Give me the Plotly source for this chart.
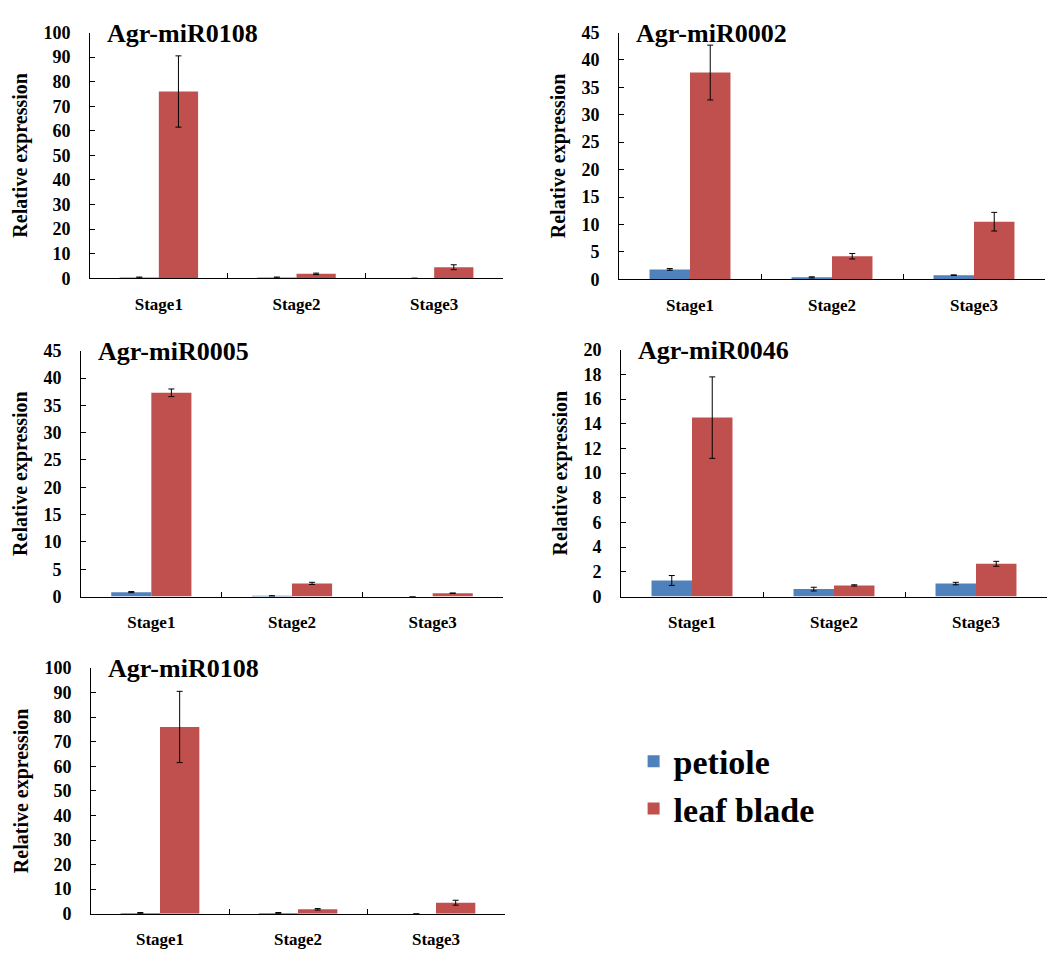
import plotly.graph_objects as go

stages = ["Stage1", "Stage2", "Stage3"]
series_names = ["petiole", "leaf blade"]
colors = ["#4F81BD", "#C0504D"]

titles = ["Agr-miR0108", "Agr-miR0002", "Agr-miR0005", "Agr-miR0046", "Agr-miR0108"]

# panel 1: Agr-miR0108
p1_petiole = [0.3, 0.3, 0.0]
p1_petiole_err = [0.2, 0.2, None]
p1_leaf = [76.0, 1.8, 4.5]
p1_leaf_err = [14.5, 0.3, 1.0]

# panel 2: Agr-miR0002
p2_petiole = [1.8, 0.35, 0.75]
p2_petiole_err = [0.15, 0.1, 0.05]
p2_leaf = [37.7, 4.2, 10.5]
p2_leaf_err = [5.0, 0.5, 1.7]

# panel 3: Agr-miR0005
p3_petiole = [0.8, 0.1, 0.0]
p3_petiole_err = [0.1, 0.05, None]
p3_leaf = [37.3, 2.4, 0.6]
p3_leaf_err = [0.7, 0.2, 0.05]

# panel 4: Agr-miR0046
p4_petiole = [1.3, 0.6, 1.05]
p4_petiole_err = [0.4, 0.15, 0.1]
p4_leaf = [14.5, 0.9, 2.65]
p4_leaf_err = [3.3, 0.05, 0.2]

# panel 5: Agr-miR0108 (repeat)
p5_petiole = [0.3, 0.3, 0.0]
p5_petiole_err = [0.2, 0.2, None]
p5_leaf = [76.0, 1.8, 4.5]
p5_leaf_err = [14.5, 0.3, 1.0]

y_max = [100, 45, 45, 20, 100]
y_step = [10, 5, 5, 2, 10]

panels = [
    (p1_petiole, p1_petiole_err, p1_leaf, p1_leaf_err),
    (p2_petiole, p2_petiole_err, p2_leaf, p2_leaf_err),
    (p3_petiole, p3_petiole_err, p3_leaf, p3_leaf_err),
    (p4_petiole, p4_petiole_err, p4_leaf, p4_leaf_err),
    (p5_petiole, p5_petiole_err, p5_leaf, p5_leaf_err),
]

W, H = 1056, 959
# pixel boxes of the plot areas: (x0, x1, ytop, ybottom)
boxes = [
    (90, 503, 23, 274),
    (619, 1045, 23, 275),
    (81, 503, 348, 599),
    (621, 1047, 347, 599),
    (91, 505, 672, 923),
]

FONT = "Liberation Serif"

fig = go.Figure()
layout = {}
annotations = []
for i, (pet, pet_e, leaf, leaf_e) in enumerate(panels):
    n = i + 1
    xa = "x" if n == 1 else f"x{n}"
    ya = "y" if n == 1 else f"y{n}"
    for k, (vals, errs) in enumerate([(pet, pet_e), (leaf, leaf_e)]):
        fig.add_trace(go.Bar(
            x=stages, y=vals,
            error_y=dict(type="data", array=errs, color="black", thickness=1, width=3),
            marker=dict(color=colors[k], line=dict(width=0)),
            name=series_names[k], legendgroup=series_names[k],
            showlegend=(n == 1), xaxis=xa, yaxis=ya,
        ))
    x0, x1, yt, yb = boxes[i]
    xkey = "xaxis" if n == 1 else f"xaxis{n}"
    ykey = "yaxis" if n == 1 else f"yaxis{n}"
    layout[xkey] = dict(
        domain=[x0 / W, x1 / W], anchor=ya, showline=True, linecolor="black", linewidth=1,
        ticks="inside", tickson="boundaries", ticklen=5, tickcolor="black",
        showgrid=False, zeroline=False, ticklabelstandoff=10,
        tickfont=dict(family=FONT, size=17, color="black", weight="bold"),
    )
    layout[ykey] = dict(
        domain=[1 - yb / H, 1 - yt / H], anchor=xa, range=[0, y_max[i]], dtick=y_step[i],
        showline=True, linecolor="black", linewidth=1, ticks="inside", ticklen=5,
        tickcolor="black", showgrid=False, zeroline=False, ticklabelstandoff=15,
        tickfont=dict(family=FONT, size=18, color="black", weight="bold"),
        title=dict(text="Relative expression", standoff=10,
                   font=dict(family=FONT, size=20, color="black", weight="bold")),
    )
    annotations.append(dict(
        text=titles[i], xref="paper", yref="paper", x=(x0 + 15) / W, y=1 - (yt + 1) / H,
        xanchor="left", yanchor="middle", showarrow=False,
        font=dict(family=FONT, size=26, color="black", weight="bold"),
    ))

fig.update_layout(
    width=W, height=H, margin=dict(l=0, r=0, t=0, b=0),
    paper_bgcolor="white", plot_bgcolor="white",
    font=dict(family=FONT, color="black", weight="bold"),
    barmode="group", bargap=0.43, bargroupgap=0,
    annotations=annotations,
    legend=dict(x=0.6, y=1 - 738 / H, xanchor="left", yanchor="top",
                font=dict(family=FONT, size=34, color="black", weight="bold"),
                bgcolor="rgba(0,0,0,0)", tracegroupgap=0, itemwidth=30),
    **layout,
)

fig.write_html("out.html")
